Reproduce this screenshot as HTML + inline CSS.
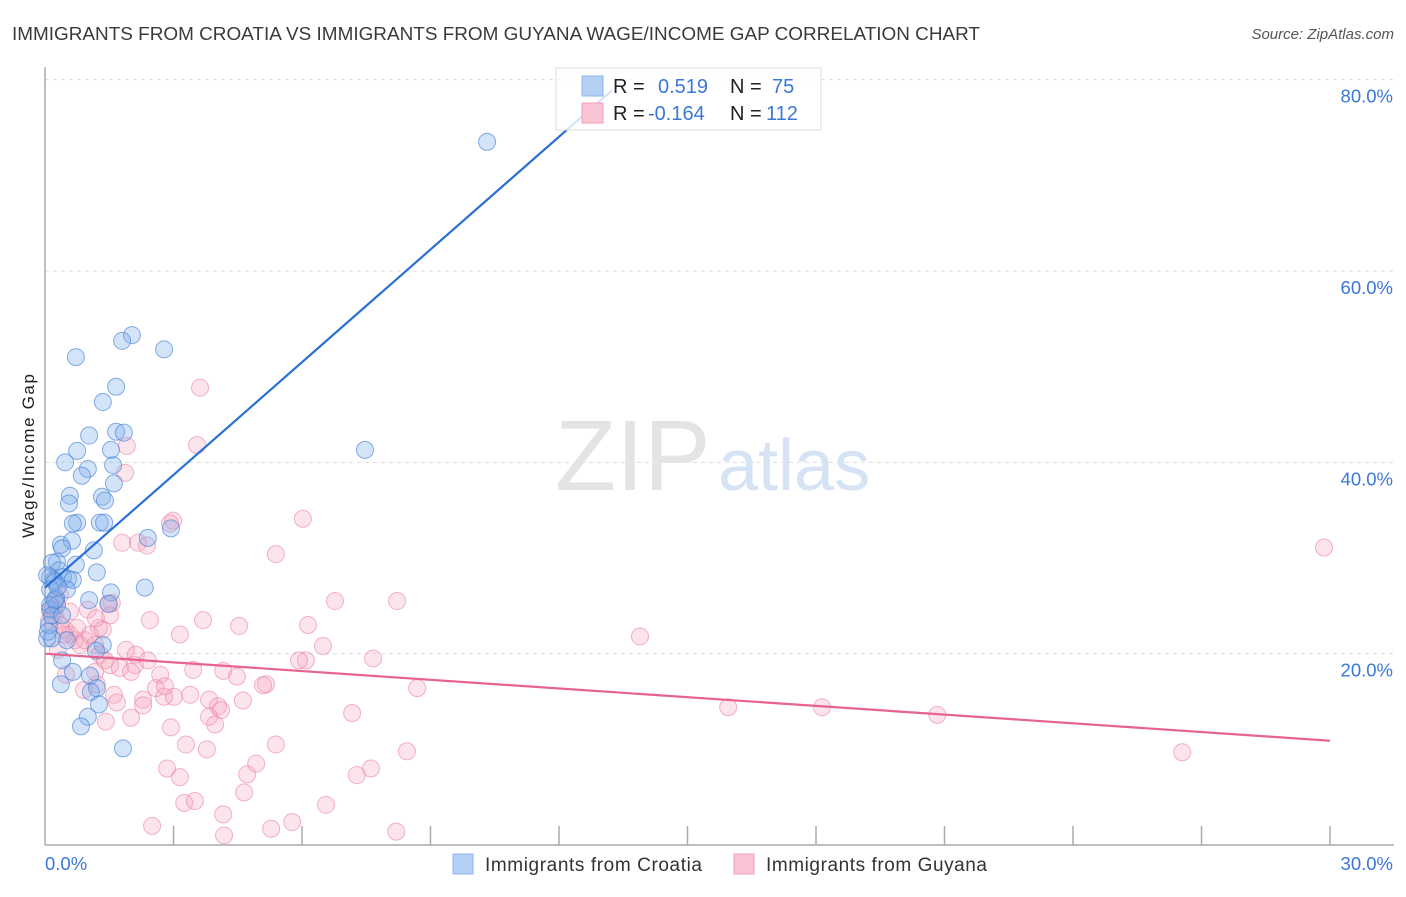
<!DOCTYPE html>
<html><head><meta charset="utf-8"><style>
body{margin:0;background:#fff;font-family:"Liberation Sans",sans-serif;}
svg text{font-family:"Liberation Sans",sans-serif;}
</style></head><body>
<svg id="chart" width="1406" height="892" viewBox="0 0 1406 892" xmlns="http://www.w3.org/2000/svg">
<text x="12" y="40" font-size="18.5" fill="#3a3a3a" textLength="968" lengthAdjust="spacingAndGlyphs">IMMIGRANTS FROM CROATIA VS IMMIGRANTS FROM GUYANA WAGE/INCOME GAP CORRELATION CHART</text>
<text x="1394" y="39" font-size="15" fill="#555" font-style="italic" text-anchor="end">Source: ZipAtlas.com</text>
<g id="grid"></g>
<text x="555" y="490" font-size="100" fill="#e4e4e4" font-family="Liberation Serif">ZIP</text>
<text x="718" y="490" font-size="72" fill="#d5e3f5">atlas</text>
<g id="axes"></g>
<text transform="translate(34,456) rotate(-90)" font-size="17" fill="#222" text-anchor="middle" textLength="164">Wage/Income Gap</text>
<g id="pts"></g>
<g id="lines"></g>
<g>
<rect x="556" y="68" width="265" height="62" fill="#fff" fill-opacity="0.8" stroke="#ddd"/>
<rect x="582" y="76" width="21" height="20" fill="#b5d0f5" stroke="#8ab4ec"/>
<rect x="582" y="103" width="21" height="20" fill="#f8c4d4" stroke="#f0a0b8"/>
<text x="613" y="93" font-size="20" fill="#222">R =</text>
<text x="658" y="93" font-size="20" fill="#3a78d8">0.519</text>
<text x="730" y="93" font-size="20" fill="#222">N =</text>
<text x="772" y="93" font-size="20" fill="#3a78d8">75</text>
<text x="613" y="120" font-size="20" fill="#222">R =</text>
<text x="648" y="120" font-size="20" fill="#3a78d8">-0.164</text>
<text x="730" y="120" font-size="20" fill="#222">N =</text>
<text x="766" y="120" font-size="20" fill="#3a78d8">112</text>
</g>
<g>
<rect x="453" y="854" width="20" height="20" fill="#b5d0f5" stroke="#8ab4ec"/>
<text x="485" y="871" font-size="19" fill="#333" textLength="217">Immigrants from Croatia</text>
<rect x="734" y="854" width="20" height="20" fill="#f8c4d4" stroke="#f0a0b8"/>
<text x="766" y="871" font-size="19" fill="#333" textLength="221">Immigrants from Guyana</text>
</g>
</svg>
<script>
const yTicks=[20,40,60,80];
const yTickLabels=["20.0%","40.0%","60.0%","80.0%"];
const xTicks=[0,3,6,9,12,15,18,21,24,27,30];
const xTickLabels=["0.0%","30.0%"];
const croatiaX=[10.32,2.03,1.80,2.78,0.72,1.66,1.35,1.03,1.66,1.84,0.75,1.54,0.47,1.00,1.59,0.86,1.61,0.58,1.33,0.56,1.40,7.47,0.75,0.65,1.28,1.38,2.94,2.40,0.37,0.63,1.14,0.40,0.28,0.16,0.72,0.33,1.21,0.12,0.21,0.42,0.54,0.05,0.65,0.23,2.33,1.54,0.51,0.12,0.26,1.03,0.28,1.49,0.12,0.05,0.51,1.35,1.19,0.40,0.16,0.65,1.05,1.21,1.07,1.26,1.00,0.84,0.37,1.82,0.09,0.12,0.23,0.16,0.40,0.07,0.30];
const croatiaY=[73.5,53.3,52.7,51.8,51.0,47.9,46.3,42.8,43.2,43.1,41.2,41.3,40.0,39.3,39.7,38.6,37.8,36.5,36.4,35.7,36.0,41.3,33.7,33.6,33.7,33.7,33.1,32.1,31.4,31.8,30.8,31.0,29.6,29.5,29.3,28.7,28.5,28.0,27.7,28.0,27.8,28.2,27.7,27.5,26.9,26.4,26.7,26.7,25.8,25.6,25.1,25.2,24.6,21.6,21.4,20.9,20.3,19.3,21.6,18.1,17.7,16.4,16.0,14.7,13.4,12.4,16.8,10.1,23.0,25.1,25.6,24.0,24.0,22.3,27.0];
const guyanaX=[3.62,3.55,1.91,1.87,6.02,2.99,2.92,2.17,1.80,2.38,5.39,29.86,6.77,8.22,1.56,1.47,1.52,2.45,3.69,4.53,6.14,3.15,13.89,6.49,1.26,0.26,0.12,0.23,0.35,0.47,0.58,0.70,0.82,0.93,1.05,1.17,1.28,1.40,1.52,1.75,2.10,2.40,2.69,2.01,3.46,4.16,4.48,5.16,5.09,6.09,7.66,8.69,15.95,18.14,20.83,26.55,0.30,0.49,0.91,1.21,1.61,1.68,2.29,2.59,2.78,3.39,3.01,3.83,4.04,4.11,2.01,1.42,2.94,3.83,3.97,2.29,3.78,3.29,4.62,5.39,5.93,7.17,8.45,2.85,3.15,3.25,3.50,4.72,4.93,6.56,7.28,7.61,4.65,2.50,4.18,4.16,5.28,5.77,8.20,2.80,1.00,1.19,1.35,1.17,1.89,2.12,0.35,0.58,0.75,0.10,0.20,0.45];
const guyanaY=[47.8,41.8,41.7,38.9,34.1,33.9,33.6,31.6,31.6,31.3,30.4,31.1,25.5,25.5,25.3,25.2,24.0,23.5,23.5,22.9,23.0,22.0,21.8,20.8,22.7,25.6,24.6,24.0,23.0,22.5,22.0,21.4,20.9,21.4,22.0,20.9,19.9,19.3,18.8,18.5,18.8,19.3,17.8,18.1,18.3,18.2,17.6,16.8,16.7,19.3,19.5,16.4,14.4,14.4,13.6,9.7,20.4,17.8,16.2,16.8,15.7,14.9,15.2,16.4,15.5,15.7,15.5,15.2,14.5,14.1,13.3,12.9,12.3,13.4,12.6,14.6,10.0,10.5,15.1,10.5,19.3,13.8,9.8,8.0,7.1,4.4,4.6,7.4,8.5,4.2,7.3,8.0,5.5,2.0,1.0,3.2,1.7,2.4,1.4,16.6,24.6,23.7,22.5,18.1,20.4,19.9,26.1,24.4,22.7,23.5,24.8,22.0];
const croatiaTrend=[0,26.9,13.24,78.9];
const guyanaTrend=[0,20.0,30,10.9];
const NS="http://www.w3.org/2000/svg";
const X0=45,X1=1330,Y0=845,PXY=9.567;
function sx(v){return X0+(v/30)*(X1-X0);}
function sy(v){return Y0-v*PXY;}
function mk(tag,attrs,parent){const e=document.createElementNS(NS,tag);for(const k in attrs)e.setAttribute(k,attrs[k]);parent.appendChild(e);return e;}
const grid=document.getElementById('grid'),axes=document.getElementById('axes'),pts=document.getElementById('pts'),lines=document.getElementById('lines');
yTicks.forEach((t,i)=>{
 const l=mk('line',{x1:X0,x2:1394,y1:sy(t),y2:sy(t),stroke:'#ddd','stroke-dasharray':'4,4'},grid);
 
 
 const tx=mk('text',{x:1393,y:sy(t)+23,'font-size':18.5,fill:'#3a78d8','text-anchor':'end'},axes);
 tx.textContent=yTickLabels[i];
 
 
});
const ya=mk('line',{x1:X0,x2:X0,y1:67,y2:Y0,stroke:'#aaa','stroke-width':1.5},axes);


const xa=mk('line',{x1:X0,x2:1394,y1:Y0,y2:Y0,stroke:'#aaa','stroke-width':1.5},axes);


xTicks.forEach(t=>{
 if(t===0)return;
 const l=mk('line',{x1:sx(t),x2:sx(t),y1:Y0-19,y2:Y0,stroke:'#aaa','stroke-width':1.5},axes);
 
 
});
const xl0=mk('text',{x:45,y:870,'font-size':18.5,fill:'#3a78d8'},axes);
xl0.textContent=xTickLabels[0];


const xl1=mk('text',{x:1393,y:870,'font-size':18.5,fill:'#3a78d8','text-anchor':'end'},axes);
xl1.textContent=xTickLabels[1];


guyanaX.forEach((x,i)=>{
 const c=mk('circle',{cx:sx(x),cy:sy(guyanaY[i]),r:8.5,fill:'rgba(245,165,190,0.3)',stroke:'rgba(235,130,165,0.6)','stroke-width':1},pts);
 
 
});
croatiaX.forEach((x,i)=>{
 const c=mk('circle',{cx:sx(x),cy:sy(croatiaY[i]),r:8.5,fill:'rgba(130,175,235,0.35)',stroke:'rgba(70,130,215,0.65)','stroke-width':1},pts);
 
 
});
const bl=mk('line',{x1:sx(croatiaTrend[0]),y1:sy(croatiaTrend[1]),x2:sx(croatiaTrend[2]),y2:sy(croatiaTrend[3]),stroke:'#2a6fd6','stroke-width':2.2},lines);


const pl=mk('line',{x1:sx(guyanaTrend[0]),y1:sy(guyanaTrend[1]),x2:sx(guyanaTrend[2]),y2:sy(guyanaTrend[3]),stroke:'#e8628f','stroke-width':2.2},lines);


</script>
</body></html>
